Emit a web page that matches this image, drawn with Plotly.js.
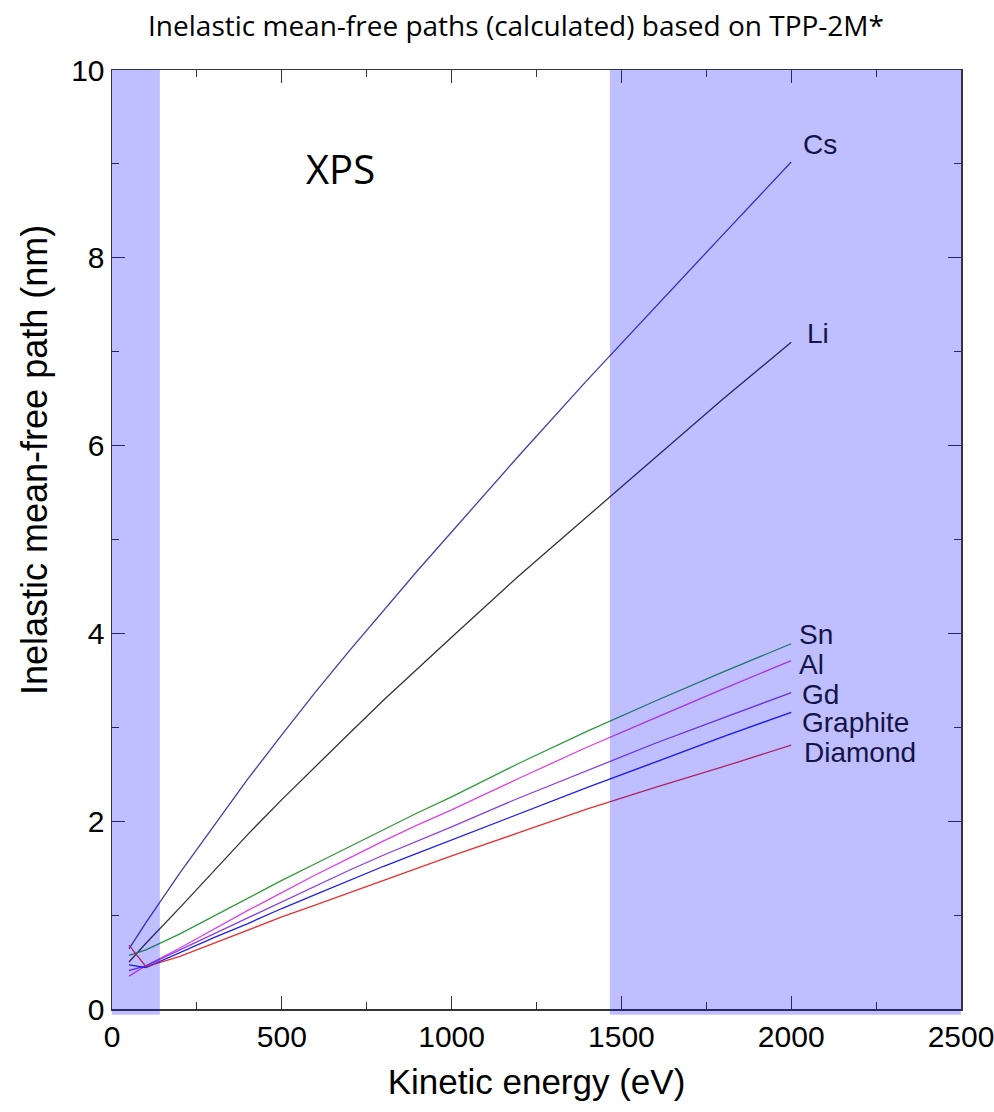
<!DOCTYPE html>
<html>
<head>
<meta charset="utf-8">
<script src="https://cdn.plot.ly/plotly-3.0.1.min.js"></script>
<style>html,body{margin:0;padding:0;background:#fff;}#chart{width:994px;height:1112px;}</style>
</head>
<body>
<div id="chart"></div>
<script>
const energy = [50, 100, 200, 300, 400, 500, 600, 700, 800, 900, 1000, 1200, 1400, 1600, 1800, 2000];
const cs       = [0.64, 0.92, 1.45, 1.95, 2.45, 2.92, 3.38, 3.82, 4.25, 4.67, 5.08, 5.90, 6.70, 7.48, 8.25, 9.02];
const li       = [0.50, 0.70, 1.08, 1.47, 1.86, 2.23, 2.59, 2.94, 3.29, 3.63, 3.96, 4.62, 5.25, 5.88, 6.50, 7.10];
const sn       = [0.57, 0.63, 0.80, 0.99, 1.18, 1.37, 1.55, 1.73, 1.91, 2.09, 2.26, 2.62, 2.96, 3.28, 3.59, 3.89];
const al       = [0.35, 0.46, 0.65, 0.85, 1.05, 1.24, 1.43, 1.61, 1.79, 1.96, 2.12, 2.46, 2.79, 3.10, 3.41, 3.71];
const gd       = [0.41, 0.46, 0.63, 0.80, 0.97, 1.14, 1.31, 1.48, 1.64, 1.79, 1.94, 2.25, 2.54, 2.83, 3.10, 3.37];
const graphite = [0.47, 0.44, 0.60, 0.76, 0.91, 1.07, 1.22, 1.37, 1.52, 1.66, 1.80, 2.08, 2.36, 2.63, 2.90, 3.16];
const diamond  = [0.68, 0.45, 0.56, 0.70, 0.84, 0.98, 1.11, 1.24, 1.37, 1.50, 1.63, 1.88, 2.13, 2.36, 2.58, 2.81];

const seriesNames = ["Cs", "Li", "Sn", "Al", "Gd", "Graphite", "Diamond"];
const seriesData = [cs, li, sn, al, gd, graphite, diamond];
const seriesColors = ["#4040a8", "#333333", "#2e9a3a", "#e040e8", "#8a3ee8", "#2020e8", "#e83030"];
const labelOffsets = [0.19, 0.09, 0.10, -0.04, -0.02, -0.11, -0.08];
const labelShift = [10, 14, 6, 6, 9, 9, 11];

const shadeLow = [0, 141];
const shadeHigh = [1466, 2500];

const traces = seriesNames.map((n, i) => ({
  x: energy, y: seriesData[i], type: "scatter", mode: "lines", name: n,
  line: {color: seriesColors[i], width: 1.3}, showlegend: false, hoverinfo: "skip"
}));

const plotL = 112, plotR = 961, plotT = 70, plotB = 1009;
const labelFont = {family: "Arial, sans-serif", size: 28, color: "#141448"};
const annotations = seriesNames.map((n, i) => ({
  x: energy[energy.length - 1], y: seriesData[i][seriesData[i].length - 1] + labelOffsets[i],
  xref: "x", yref: "y", text: n, showarrow: false, xanchor: "left", xshift: labelShift[i],
  font: labelFont
}));
annotations.push({
  x: 672, y: 8.95, xref: "x", yref: "y", text: "XPS", showarrow: false,
  font: {family: "Open Sans, Noto Sans, sans-serif", size: 40, color: "#000"}
});
annotations.push({
  x: (35 - plotL) / (plotR - plotL), y: (plotB - 460) / (plotB - plotT),
  xref: "paper", yref: "paper", text: "Inelastic mean-free path (nm)",
  showarrow: false, textangle: -90, xanchor: "center", yanchor: "middle",
  font: {family: "Arial, sans-serif", size: 36, color: "#000"}
});

const tickFont = {family: "Arial, sans-serif", size: 30, color: "#000"};
const titleFont = {family: "Arial, sans-serif", size: 35, color: "#000"};

const layout = {
  width: 994, height: 1112,
  margin: {l: 112, r: 33, t: 70, b: 103},
  paper_bgcolor: "#fff", plot_bgcolor: "#fff",
  title: {
    text: "Inelastic mean-free paths (calculated) based on TPP-2M*",
    x: 516 / 994, xref: "container", xanchor: "center", y: 1 - 26 / 1112, yref: "container", yanchor: "middle",
    font: {family: "Open Sans, Noto Sans, sans-serif", size: 28, color: "#000"}
  },
  xaxis: {
    range: [0, 2500], tickvals: [0, 500, 1000, 1500, 2000, 2500], ticklabeloverflow: "allow",
    ticks: "inside", ticklen: 13, tickwidth: 1.2, tickcolor: "#333344",
    minor: {tickvals: [250, 750, 1250, 1750, 2250], ticks: "inside", ticklen: 7, tickwidth: 1, tickcolor: "#333344"},
    showline: true, linecolor: "#333344", linewidth: 1.5, mirror: "ticks",
    showgrid: false, zeroline: false, tickfont: tickFont,
    title: {text: "Kinetic energy (eV)", font: titleFont, standoff: 18}
  },
  yaxis: {
    range: [0, 10], tickvals: [0, 2, 4, 6, 8, 10], ticklabeloverflow: "allow",
    ticks: "inside", ticklen: 13, tickwidth: 1.2, tickcolor: "#333344",
    minor: {tickvals: [1, 3, 5, 7, 9], ticks: "inside", ticklen: 7, tickwidth: 1, tickcolor: "#333344"},
    showline: true, linecolor: "#333344", linewidth: 1.5, mirror: "ticks",
    showgrid: false, zeroline: false, tickfont: tickFont
  },
  shapes: [
    {type: "rect", xref: "x", yref: "paper", x0: shadeLow[0], x1: shadeLow[1], y0: -0.006, y1: 1, fillcolor: "rgba(0,0,255,0.25)", line: {width: 0}, layer: "above"},
    {type: "rect", xref: "x", yref: "paper", x0: shadeHigh[0], x1: shadeHigh[1], y0: -0.006, y1: 1, fillcolor: "rgba(0,0,255,0.25)", line: {width: 0}, layer: "above"}
  ],
  annotations: annotations
};

Plotly.newPlot("chart", traces, layout, {displayModeBar: false, staticPlot: true});
</script>
</body>
</html>
